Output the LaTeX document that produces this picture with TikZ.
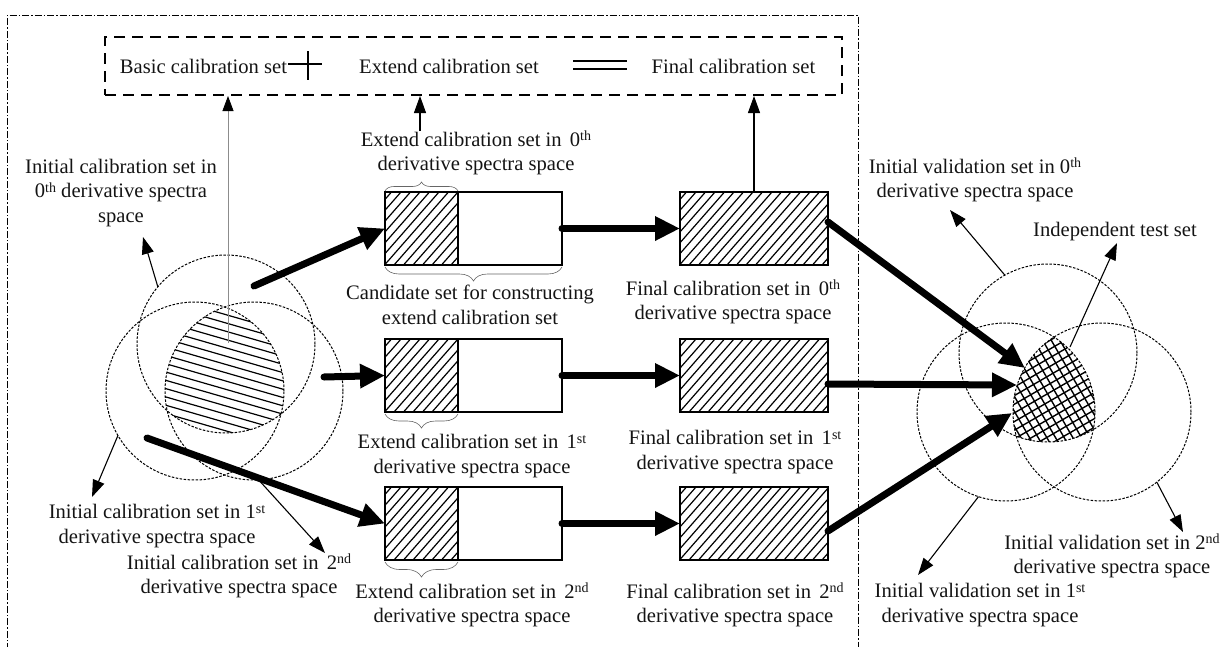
\documentclass[tikz,border=0pt]{standalone}
\usepackage{fontspec}
\setmainfont{Liberation Serif}
\usetikzlibrary{arrows.meta,decorations.pathreplacing}
\newcommand\supx[1]{\raisebox{5.5pt}{\fontsize{14}{14}\selectfont #1}}
\begin{document}
\begin{tikzpicture}[x=1pt,y=-1pt,
  lbl/.style={font=\fontsize{20.6}{24.5}\selectfont, align=center, inner sep=0pt, text=black!92},
  dcirc/.style={circle, draw, dash pattern=on 2.5pt off 1.5pt, line width=1pt, minimum size=178pt, inner sep=0pt, outer sep=0pt},
  boxn/.style={draw, line width=1.4pt, inner sep=0pt, outer sep=0pt, minimum height=73pt},
  tarrow/.style={line width=7pt, line cap=round, -{Triangle[length=25pt,width=23pt]}},
  narrow/.style={line width=1.1pt, -{Triangle[length=17pt,width=12pt]}},
  brc/.style={decorate, decoration={brace, amplitude=#1}, line width=0.6pt, draw=black!60},
  hatch/.style={line width=1.2pt}
]
\useasboundingbox (0,0) rectangle (1224,646);
% outer frame
\draw[dash pattern=on 7pt off 2pt on 1.5pt off 2pt, line width=0.9pt] (7,650) -- (7,15) -- (858,15) -- (858,650);

% legend
\node[draw, dash pattern=on 11pt off 7pt, line width=2pt, minimum width=737pt, minimum height=58pt, inner sep=0pt] (legend) at (473.5,66) {};
\node[lbl, anchor=base] (lg1) at (203.5,73) {Basic calibration set};
\node[lbl, anchor=base] (lg2) at (449,73) {Extend calibration set};
\node[lbl, anchor=base] (lg3) at (733.5,73) {Final calibration set};
\draw[line width=1.6pt] (288,64) -- (322,64) (308,51) -- (308,80);
\draw[line width=2pt] (573,61) -- (627,61) (573,69) -- (627,69);

% left circles
\node[dcirc] (lc0) at (226,344) {};
\node[dcirc] (lc1) at (195,391) {};
\node[dcirc] (lc2) at (254,391) {};
\begin{scope}
\clip (226,344) circle (89pt);
\clip (195,391) circle (89pt);
\clip (254,391) circle (89pt);
\foreach \k in {0,...,27} \draw[hatch] (140,{265+\k*8.3}) -- (310,{265+\k*8.3+49});
\end{scope}
\coordinate (lh) at (228,343);

% right circles
\node[dcirc] (rc0) at (1048,353) {};
\node[dcirc] (rc1) at (1006,412) {};
\node[dcirc] (rc2) at (1102,412) {};
\begin{scope}
\clip (1048,353) circle (89pt);
\clip (1006,412) circle (89pt);
\clip (1102,412) circle (89pt);
\begin{scope}[rotate around={30:(1054,390)}]
\foreach \k in {-12,...,12} {
  \draw[hatch, line width=1.4pt] (970,{390+\k*7.5}) -- (1140,{390+\k*7.5});
  \draw[hatch, line width=1.4pt] ({1054+\k*7.5},300) -- ({1054+\k*7.5},480);
}
\end{scope}
\end{scope}
\coordinate (xh0) at (1025,368);
\coordinate (xh1) at (1017,385);
\coordinate (xh2) at (1012,413);
\coordinate (xht) at (1070,347);

% boxes hatching
\foreach \by in {192,339,487} {
  \begin{scope}
  \clip (385,\by) rectangle (458,\by+73);
  \foreach \k in {0,...,15} \draw[hatch] ({318+\k*9.5},\by+73) -- ({318+\k*9.5+64},\by);
  \end{scope}
  \begin{scope}
  \clip (680,\by) rectangle (828,\by+73);
  \foreach \k in {0,...,23} \draw[hatch] ({613+\k*9.5},\by+73) -- ({613+\k*9.5+64},\by);
  \end{scope}
}
\node[boxn, minimum width=177pt] (cb0) at (473.5,228.5) {};
\node[boxn, minimum width=73pt] (eb0) at (421.5,228.5) {};
\node[boxn, minimum width=148pt] (fb0) at (754,228.5) {};
\node[boxn, minimum width=177pt] (cb1) at (473.5,375.5) {};
\node[boxn, minimum width=73pt] (eb1) at (421.5,375.5) {};
\node[boxn, minimum width=148pt] (fb1) at (754,375.5) {};
\node[boxn, minimum width=177pt] (cb2) at (473.5,523.5) {};
\node[boxn, minimum width=73pt] (eb2) at (421.5,523.5) {};
\node[boxn, minimum width=148pt] (fb2) at (754,523.5) {};

% braces
\draw[brc=9pt] (385,191) -- (458,191);
\draw[brc=14pt] (562,267) -- (385,267);
\draw[brc=14pt] (458,414) -- (385,414);
\draw[brc=15pt] (458,562) -- (385,562);

% labels
\node[lbl] (L0) at (121,193) {Initial calibration set in\\0\supx{th} derivative spectra\\space};
\node[lbl] (L1) at (157,526) {Initial calibration set in 1\supx{st}\\derivative spectra space};
\node[lbl] (L2) at (239,576) {Initial calibration set in\hspace{0.4em}2\supx{nd}\\derivative spectra space};
\node[lbl] (E0) at (476,153) {Extend calibration set in\hspace{0.4em}0\supx{th}\\derivative spectra space};
\node[lbl] (CS) at (470,305) {Candidate set for constructing\\extend calibration set};
\node[lbl] (E1) at (472,456) {Extend calibration set in\hspace{0.4em}1\supx{st}\\derivative spectra space};
\node[lbl] (E2) at (472,605) {Extend calibration set in\hspace{0.4em}2\supx{nd}\\derivative spectra space};
\node[lbl] (F0) at (733,302) {Final calibration set in\hspace{0.4em}0\supx{th}\\derivative spectra space};
\node[lbl] (F1) at (735,452) {Final calibration set in\hspace{0.4em}1\supx{st}\\derivative spectra space};
\node[lbl] (F2) at (735,605) {Final calibration set in\hspace{0.4em}2\supx{nd}\\derivative spectra space};
\node[lbl] (V0) at (975,180) {Initial validation set in 0\supx{th}\\derivative spectra space};
\node[lbl] (TS) at (1115,232) {Independent test set};
\node[lbl] (V2) at (1112,556) {Initial validation set in 2\supx{nd}\\derivative spectra space};
\node[lbl] (V1) at (980,605) {Initial validation set in 1\supx{st}\\derivative spectra space};

% free ends
\coordinate (ls0) at (254,286);
\coordinate (ls1) at (324,377);
\coordinate (ls2) at (147,438);
\coordinate (t0) at (143,237);
\coordinate (t1) at (92,497);
\coordinate (t2) at (325,553);
\coordinate (tv0) at (950,210);
\coordinate (tts) at (1117,243);
\coordinate (tv1) at (918,575);
\coordinate (tv2) at (1183,532);
\coordinate (e0top) at (420,131);

% thick arrows
\draw[tarrow] (ls0) -- (eb0.west);
\draw[tarrow] (ls1) -- (eb1.west);
\draw[tarrow] (ls2) -- (eb2.west);
\draw[tarrow] (cb0.east) -- (fb0.west);
\draw[tarrow] (cb1.east) -- (fb1.west);
\draw[tarrow] (cb2.east) -- (fb2.west);
\draw[tarrow] ([yshift=6.5pt]fb0.east) -- (xh0);
\draw[tarrow] ([yshift=-8.5pt]fb1.east) -- (xh1);
\draw[tarrow] ([yshift=-7.5pt]fb2.east) -- (xh2);

% thin arrows
\draw[narrow] (lc0.140) -- (t0);
\draw[narrow] (lc1.210) -- (t1);
\draw[narrow] (lc2.-87) -- (t2);
\draw[narrow] (rc0.119) -- (tv0);
\draw[narrow] (xht) -- (tts);
\draw[narrow] (rc1.-108) -- (tv1);
\draw[narrow] (rc2.-52) -- (tv2);
\draw[line width=0.8pt, draw=black!45, -{Triangle[length=15pt,width=11pt,color=black]}] (lh) -- (lh |- legend.south);
\draw[narrow] (e0top) -- (e0top |- legend.south);
\draw[narrow] (fb0.north) -- (fb0.north |- legend.south);
\end{tikzpicture}
\end{document}
